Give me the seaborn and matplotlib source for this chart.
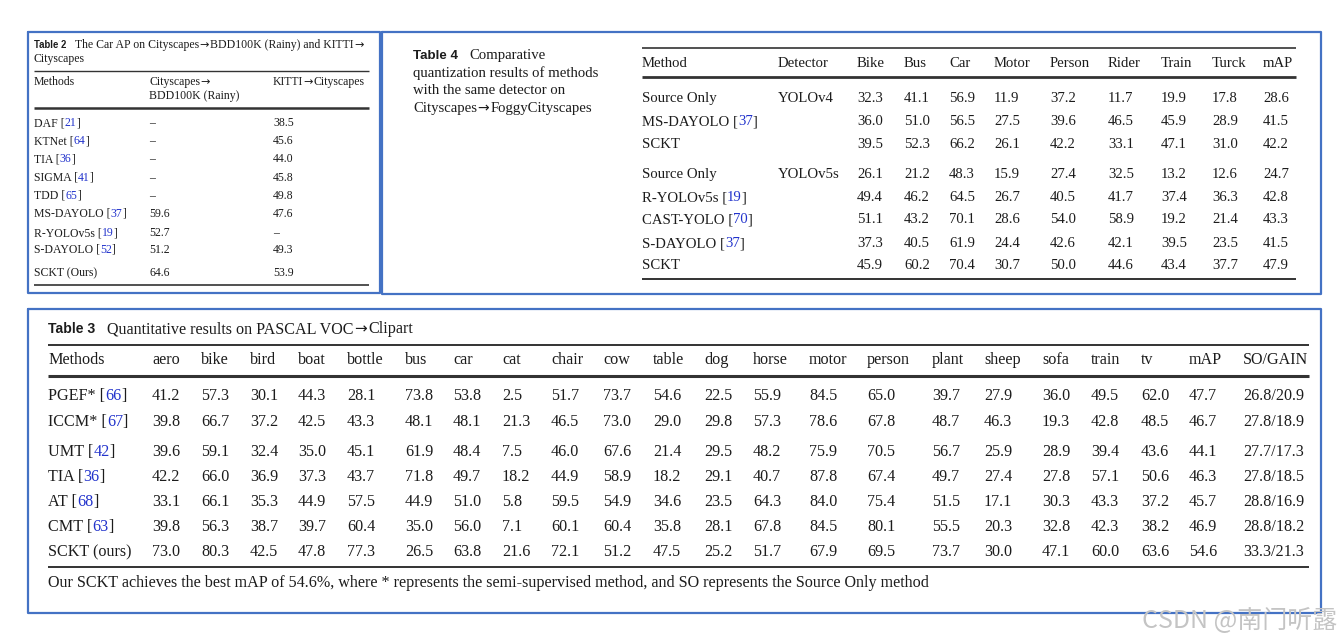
import matplotlib
matplotlib.use("Agg")
import matplotlib.pyplot as plt
import seaborn as sns

# ---------------- Table 2 data ----------------
t2_methods = ["DAF", "KTNet", "TIA", "SIGMA", "TDD", "MS-DAYOLO", "R-YOLOv5s", "S-DAYOLO", "SCKT (Ours)"]
t2_refs = ["21", "64", "36", "41", "65", "37", "19", "52", None]
t2_bdd = [None, None, None, None, None, 59.6, 52.7, 51.2, 64.6]
t2_kitti = [38.5, 45.6, 44.0, 45.8, 49.8, 47.6, None, 49.3, 53.9]

# ---------------- Table 4 data ----------------
t4_classes = ["Bike", "Bus", "Car", "Motor", "Person", "Rider", "Train", "Turck", "mAP"]
t4_methods = ["Source Only", "MS-DAYOLO", "SCKT", "Source Only", "R-YOLOv5s", "CAST-YOLO", "S-DAYOLO", "SCKT"]
t4_refs = [None, "37", None, None, "19", "70", "37", None]
t4_detectors = ["YOLOv4", "", "", "YOLOv5s", "", "", "", ""]
t4_values = [
    [32.3, 41.1, 56.9, 11.9, 37.2, 11.7, 19.9, 17.8, 28.6],
    [36.0, 51.0, 56.5, 27.5, 39.6, 46.5, 45.9, 28.9, 41.5],
    [39.5, 52.3, 66.2, 26.1, 42.2, 33.1, 47.1, 31.0, 42.2],
    [26.1, 21.2, 48.3, 15.9, 27.4, 32.5, 13.2, 12.6, 24.7],
    [49.4, 46.2, 64.5, 26.7, 40.5, 41.7, 37.4, 36.3, 42.8],
    [51.1, 43.2, 70.1, 28.6, 54.0, 58.9, 19.2, 21.4, 43.3],
    [37.3, 40.5, 61.9, 24.4, 42.6, 42.1, 39.5, 23.5, 41.5],
    [45.9, 60.2, 70.4, 30.7, 50.0, 44.6, 43.4, 37.7, 47.9],
]

# ---------------- Table 3 data ----------------
t3_classes = ["aero", "bike", "bird", "boat", "bottle", "bus", "car", "cat", "chair", "cow",
              "table", "dog", "horse", "motor", "person", "plant", "sheep", "sofa", "train", "tv", "mAP"]
t3_methods = ["PGEF*", "ICCM*", "UMT", "TIA", "AT", "CMT", "SCKT (ours)"]
t3_refs = ["66", "67", "42", "36", "68", "63", None]
t3_values = [
    [41.2, 57.3, 30.1, 44.3, 28.1, 73.8, 53.8, 2.5, 51.7, 73.7, 54.6, 22.5, 55.9, 84.5, 65.0, 39.7, 27.9, 36.0, 49.5, 62.0, 47.7],
    [39.8, 66.7, 37.2, 42.5, 43.3, 48.1, 48.1, 21.3, 46.5, 73.0, 29.0, 29.8, 57.3, 78.6, 67.8, 48.7, 46.3, 19.3, 42.8, 48.5, 46.7],
    [39.6, 59.1, 32.4, 35.0, 45.1, 61.9, 48.4, 7.5, 46.0, 67.6, 21.4, 29.5, 48.2, 75.9, 70.5, 56.7, 25.9, 28.9, 39.4, 43.6, 44.1],
    [42.2, 66.0, 36.9, 37.3, 43.7, 71.8, 49.7, 18.2, 44.9, 58.9, 18.2, 29.1, 40.7, 87.8, 67.4, 49.7, 27.4, 27.8, 57.1, 50.6, 46.3],
    [33.1, 66.1, 35.3, 44.9, 57.5, 44.9, 51.0, 5.8, 59.5, 54.9, 34.6, 23.5, 64.3, 84.0, 75.4, 51.5, 17.1, 30.3, 43.3, 37.2, 45.7],
    [39.8, 56.3, 38.7, 39.7, 60.4, 35.0, 56.0, 7.1, 60.1, 60.4, 35.8, 28.1, 67.8, 84.5, 80.1, 55.5, 20.3, 32.8, 42.3, 38.2, 46.9],
    [73.0, 80.3, 42.5, 47.8, 77.3, 26.5, 63.8, 21.6, 72.1, 51.2, 47.5, 25.2, 51.7, 67.9, 69.5, 73.7, 30.0, 47.1, 60.0, 63.6, 54.6],
]
t3_so = [26.8, 27.8, 27.7, 27.8, 28.8, 28.8, 33.3]
t3_gain = [20.9, 18.9, 17.3, 18.5, 16.9, 18.2, 21.3]

# ---------------- style ----------------
sns.set_theme(style="white")
SERIF = ["Liberation Serif", "DejaVu Serif"]
SANS = ["Liberation Sans", "DejaVu Sans"]
ARROW = ["DejaVu Sans"]
INK = "#1c1c1c"
CITE = "#2233cc"
BORDER = "#4472c4"
RULE = "#333333"

W, H = 1343, 641
fig = plt.figure(figsize=(W / 100, H / 100), dpi=100, facecolor="white")
ax = fig.add_axes([0, 0, 1, 1])
ax.set_xlim(0, W)
ax.set_ylim(H, 0)
ax.axis("off")
renderer = fig.canvas.get_renderer()


def fmt(v):
    return "–" if v is None else f"{v:.1f}"


def tw(s, size, family=SERIF, weight="normal"):
    # ink width of a string in pixels
    t = ax.text(0, 0, s, fontsize=size, family=family, fontweight=weight)
    w = t.get_window_extent(renderer).width
    t.remove()
    return w


def cell(x, y, s, size, color=INK):
    # serif text; arrows drawn with DejaVu Sans so they look like the wide Times arrow
    em = size * 100 / 72
    pieces = s.split("→")
    for k, p in enumerate(pieces):
        if p:
            ax.text(x, y, p, fontsize=size, family=SERIF, color=color, va="baseline", ha="left")
            x += tw(p, size) + 0.04 * em
            if p.endswith(" "):
                x += tw("x x", size) - tw("xx", size)
        if k < len(pieces) - 1:
            ax.text(x, y, "→", fontsize=size * 0.95, family=ARROW, color=color, va="baseline", ha="left")
            x += tw("→", size * 0.95, ARROW) + 0.06 * em
    return x


def label(x, y, name, ref, size):
    if ref is None:
        ax.text(x, y, name, fontsize=size, family=SERIF, color=INK, va="baseline")
        return
    pre = name + " ["
    ax.text(x, y, pre, fontsize=size, family=SERIF, color=INK, va="baseline")
    ax.text(x + tw(pre + ref, size) - tw(ref, size), y, ref, fontsize=size, family=SERIF,
            color=CITE, va="baseline")
    ax.text(x + tw(pre + ref + "]", size) - tw("]", size), y, "]", fontsize=size, family=SERIF,
            color=INK, va="baseline")


def title(x, y, tag, rest, size, tag_size):
    ax.text(x, y, tag, fontsize=tag_size, family=SANS, fontweight="bold", color=INK, va="baseline")
    x += tw(tag, tag_size, SANS, "bold") + 0.75 * size * 100 / 72
    cell(x, y, rest, size)


def rule(x0, x1, y, lw):
    ax.plot([x0, x1], [y, y], color=RULE, lw=lw, solid_capstyle="butt")


def box(x0, y0, x1, y1):
    ax.plot([x0, x1, x1, x0, x0], [y0, y0, y1, y1, y0], color=BORDER, lw=1.6)


# ---------------- borders ----------------
box(28, 32, 380, 293)
box(382, 32, 1321, 294)
box(28, 309, 1321, 613)

# ---------------- Table 2 ----------------
s2 = 8.5
title(34, 48, "Table 2", "The Car AP on Cityscapes→BDD100K (Rainy) and KITTI→", s2, 6.9)
cell(34, 62, "Cityscapes", s2)
rule(34, 369, 71, 1.0)
cell(34, 85, "Methods", s2)
cell(149, 85, "Cityscapes→", s2)
cell(149, 99, "BDD100K (Rainy)", s2)
cell(273, 85, "KITTI→Cityscapes", s2)
rule(34, 369, 108, 1.8)
t2_y = [126, 144, 162, 181, 199, 217, 236, 253, 276]
for i, y in enumerate(t2_y):
    label(34, y, t2_methods[i], t2_refs[i], s2)
    cell(149, y, fmt(t2_bdd[i]), s2)
    cell(273, y, fmt(t2_kitti[i]), s2)
rule(34, 369, 285, 1.2)

# ---------------- Table 4 ----------------
s4 = 10.6
title(413, 59, "Table 4", "Comparative", s4, 9.6)
cell(413, 77, "quantization results of methods", s4)
cell(413, 94, "with the same detector on", s4)
cell(413, 112, "Cityscapes→FoggyCityscapes", s4)
t4_x = [857, 904, 949, 994, 1050, 1108, 1161, 1212, 1263]
rule(642, 1296, 48, 1.2)
cell(642, 67, "Method", s4)
cell(778, 67, "Detector", s4)
for j, c in enumerate(t4_classes):
    cell(t4_x[j], 67, c, s4)
rule(642, 1296, 77, 2.0)
t4_y = [102, 125, 148, 178, 201, 223, 247, 269]
for i, y in enumerate(t4_y):
    label(642, y, t4_methods[i], t4_refs[i], s4)
    cell(778, y, t4_detectors[i], s4)
    for j, v in enumerate(t4_values[i]):
        cell(t4_x[j], y, fmt(v), s4)
rule(642, 1296, 279, 1.4)

# ---------------- Table 3 ----------------
s3 = 11.6
title(48, 333, "Table 3", "Quantitative results on PASCAL VOC→Clipart", s3, 10.1)
t3_x = [152, 201, 250, 298, 347, 405, 453, 502, 551, 603, 653, 704, 753, 809, 867,
        932, 984, 1042, 1091, 1141, 1189]
rule(48, 1309, 345, 1.4)
cell(48, 364, "Methods", s3)
for j, c in enumerate(t3_classes):
    cell(t3_x[j], 364, c, s3)
cell(1243, 364, "SO/GAIN", s3)
rule(48, 1309, 376, 2.2)
t3_y = [400, 426, 456, 481, 506, 531, 556]
for i, y in enumerate(t3_y):
    label(48, y, t3_methods[i], t3_refs[i], s3)
    for j, v in enumerate(t3_values[i]):
        cell(t3_x[j], y, fmt(v), s3)
    cell(1243, y, f"{t3_so[i]:.1f}/{t3_gain[i]:.1f}", s3)
rule(48, 1309, 567, 1.4)
cell(48, 587, "Our SCKT achieves the best mAP of 54.6%, where * represents the semi-supervised method, "
              "and SO represents the Source Only method", s3)

# ---------------- watermark ----------------
ax.text(1142, 628, "CSDN @南门听露", fontsize=18, family=["Noto Sans CJK SC", "DejaVu Sans"],
        color="#c4c4c4", va="baseline", ha="left")

fig.savefig("out.png", dpi=100, facecolor="white")
